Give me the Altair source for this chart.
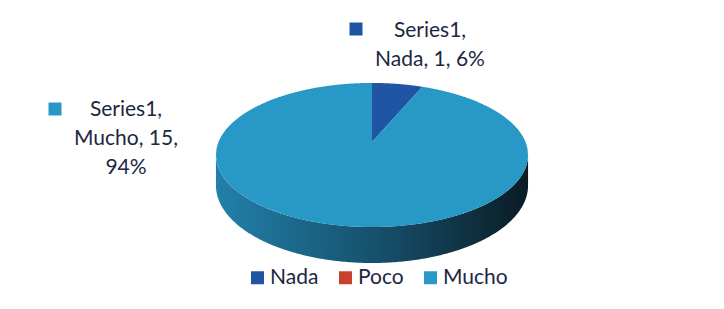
import altair as alt
import numpy as np
import pandas as pd

# ---------------- data ----------------
series_name = "Series1"
categories = ["Nada", "Poco", "Mucho"]
values = [1, 0, 15]
slice_colors = ["#1f55a3", "#c8412e", "#2899c7"]
label_wrap = {"Nada": " ", "Mucho": "\n"}  # where the "pct" part wraps

# ---------------- layout constants (pixels of the plot area) ----------------
W, H = 708, 288
CX, CY0, A, B, K = 364.0, 134.0, 153.5, 69.7, 0.18
DEPTH = 36.0
TEXT_COLOR = "#1c2742"
FONT = "Lato"
FS = 21


def proj(theta_deg, r=1.0):
    t = np.radians(theta_deg)
    u = r * np.sin(t)
    v = -r * np.cos(t)
    s = 1.0 / (1.0 - K * v)
    return CX + A * u * s, CY0 + B * v * s, s


def vertical_spans(px, py, extra_x):
    xs = np.linspace(px.min() + 1e-6, px.max() - 1e-6, 500)
    xs = np.sort(np.concatenate([xs, np.asarray(extra_x)]))
    rows = []
    for x in xs:
        ys = []
        for i in range(len(px) - 1):
            x1, y1, x2, y2 = px[i], py[i], px[i + 1], py[i + 1]
            if x1 == x2:
                continue
            if (x1 - x) * (x2 - x) <= 0:
                t = (x - x1) / (x2 - x1)
                ys.append(y1 + t * (y2 - y1))
        if len(ys) >= 2:
            rows.append((x, min(ys), max(ys)))
    return rows


# ---------------- top face slices ----------------
total = float(sum(values))
slice_rows = []
start = 0.0
for cat, val in zip(categories, values):
    sweep = 360.0 * val / total
    if val > 0:
        thetas = np.linspace(start, start + sweep, max(3, int(sweep * 2)))
        ax, ay, _ = proj(thetas)
        px = np.concatenate([[CX], ax, [CX]])
        py = np.concatenate([[CY0], ay, [CY0]])
        extra = [CX - 0.01, CX + 0.01]
        for x, lo, hi in vertical_spans(px, py, extra):
            if px.min() <= x <= px.max():
                slice_rows.append({"cat": cat, "x": x, "y": lo, "y2": hi})
    start += sweep
slices_df = pd.DataFrame(slice_rows)

# ---------------- side (depth) of the cylinder ----------------
thR = np.degrees(np.arccos(-K))
th_side = np.linspace(thR, 360 - thR, 400)
sx, sy, ss = proj(th_side)
s_bottom = 1.0 / (1.0 - K)
side_df = pd.DataFrame({"x": sx, "y": sy, "y2": sy + DEPTH * ss / s_bottom})

# ---------------- data labels ----------------
pcts = [round(100 * v / total) for v in values]
label_pos = {"Nada": (422, 29), "Mucho": (118, 108)}
marker_pos = {"Nada": (348, 21), "Mucho": (47, 101)}
label_rows, marker_rows = [], []
for cat, val, pct, col in zip(categories, values, pcts, slice_colors):
    if cat in label_pos:
        txt = f"{series_name},\n{cat}, {val},{label_wrap[cat]}{pct}%"
        label_rows.append({"x": label_pos[cat][0], "y": label_pos[cat][1], "text": txt})
        marker_rows.append({"x": marker_pos[cat][0], "y": marker_pos[cat][1], "col": col})
labels_df = pd.DataFrame(label_rows)
markers_df = pd.DataFrame(marker_rows)

xs = alt.Scale(domain=[0, W], nice=False, zero=False)
ys = alt.Scale(domain=[0, H], nice=False, zero=False, reverse=True)

side = alt.Chart(side_df).mark_area(
    color=alt.Gradient(
        gradient="linear",
        stops=[
            alt.GradientStop(color="#2380aa", offset=0),
            alt.GradientStop(color="#1b6486", offset=0.3),
            alt.GradientStop(color="#144860", offset=0.6),
            alt.GradientStop(color="#0a1b25", offset=1),
        ],
        x1=0, x2=1, y1=0, y2=0,
    )
).encode(
    x=alt.X("x:Q", scale=xs, axis=None),
    y=alt.Y("y:Q", scale=ys, axis=None, stack=None),
    y2="y2:Q",
)

top = alt.Chart(slices_df).mark_area(opacity=1).encode(
    x=alt.X("x:Q", scale=xs, axis=None),
    y=alt.Y("y:Q", scale=ys, axis=None, stack=None),
    y2="y2:Q",
    color=alt.Color(
        "cat:N",
        scale=alt.Scale(domain=categories, range=slice_colors),
        legend=alt.Legend(
            title=None,
            orient="none",
            legendX=239,
            legendY=259,
            direction="horizontal",
            symbolType="square",
            symbolSize=169,
            symbolStrokeWidth=0,
            symbolOpacity=1,
            labelFont=FONT,
            labelFontSize=FS,
            labelColor=TEXT_COLOR,
            labelOffset=2,
            columnPadding=16,
            padding=0,
        ),
    ),
)

markers = alt.Chart(markers_df).mark_square(size=169, opacity=1).encode(
    x=alt.X("x:Q", scale=xs, axis=None),
    y=alt.Y("y:Q", scale=ys, axis=None),
    fill=alt.Fill("col:N", scale=None, legend=None),
)

labels = alt.Chart(labels_df).mark_text(
    align="center",
    baseline="alphabetic",
    font=FONT,
    fontSize=FS,
    lineHeight=29,
    lineBreak="\n",
    color=TEXT_COLOR,
).encode(
    x=alt.X("x:Q", scale=xs, axis=None),
    y=alt.Y("y:Q", scale=ys, axis=None),
    text="text:N",
)

chart = alt.layer(side, top, markers, labels).properties(
    width=W, height=H, padding=0, autosize="none", background="white"
).configure_view(stroke=None)

chart.save("out.html", embed_options={"renderer": "svg", "actions": False})
